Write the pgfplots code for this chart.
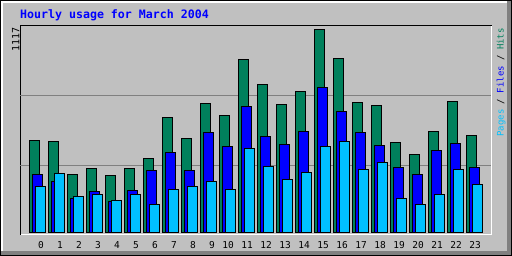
\documentclass[border=0pt]{standalone}
\usepackage{pgfplots}
\pgfplotsset{compat=1.18}
\usepackage{pgfplotstable}
\usepackage{fontspec}
\setmainfont{DejaVu Sans Mono}
\definecolor{bgc}{HTML}{C0C0C0}
\definecolor{hitc}{HTML}{00805C}
\definecolor{filec}{HTML}{0000FF}
\definecolor{pagec}{HTML}{00C0FF}
\definecolor{gridc}{HTML}{808080}
\pgfplotstableread{
h hits files pages
0 505 317 251
1 499 281 323
2 317 187 196
3 350 226 207
4 312 171 176
5 350 231 207
6 406 340 152
7 631 439 235
8 516 340 251
9 708 549 279
10 642 472 235
11 950 692 461
12 813 527 362
13 703 483 290
14 774 554 329
15 1117 796 472
16 956 664 499
17 714 549 345
18 697 477 384
19 494 356 185
20 428 317 152
21 554 450 207
22 719 488 345
23 532 356 262
}\datatable
\begin{document}
\begin{tikzpicture}[x=1pt,y=1pt]
\useasboundingbox (0,0) rectangle (512,256);
% outer frame
\fill[bgc] (0,0) rectangle (512,256);
\fill[white] (1,253) rectangle (511,255);
\fill[white] (1,1) rectangle (3,255);
\fill[gridc] (1,1) rectangle (511,5);
\fill[gridc] (507,1) rectangle (511,255);
\draw[black, line width=1pt] (0.5,0.5) rectangle (511.5,255.5);
% plot area frame
\draw[white, line width=1pt] (20,21.5) -- (491.5,21.5) -- (491.5,231);
\draw[black, line width=1pt] (20.5,21) -- (20.5,230.5) -- (492,230.5);
\begin{axis}[
  at={(20pt,22pt)}, anchor=south west,
  scale only axis, width=471pt, height=208pt,
  xmin=-0.76316, xmax=24.0263,
  ymin=-8.25, ymax=1136.3,
  axis line style={draw=none},
  major tick length=0pt,
  ytick={369,754}, yticklabels={},
  ymajorgrids, grid style={gridc, line width=1pt},
  xtick={0.347,1.347,2.347,3.347,4.347,5.347,6.347,7.347,8.347,9.347,10.195,11.195,12.195,13.195,14.195,15.195,16.195,17.195,18.195,19.195,20.195,21.195,22.195,23.195},
  xticklabels={0,1,2,3,4,5,6,7,8,9,10,11,12,13,14,15,16,17,18,19,20,21,22,23},
  xticklabel style={anchor=base, yshift=-14.3pt, font=\fontsize{9.5}{10}\selectfont, inner sep=0pt},
  clip=false,
]
\addplot[ybar, bar width=10pt, bar shift=0pt, fill=hitc, draw=black, line width=1pt] table[x=h, y=hits] {\datatable};
\addplot[ybar, bar width=10pt, bar shift=3pt, fill=filec, draw=black, line width=1pt] table[x=h, y=files] {\datatable};
\addplot[ybar, bar width=10pt, bar shift=6pt, fill=pagec, draw=black, line width=1pt] table[x=h, y=pages] {\datatable};
\end{axis}
% titles
\node[anchor=base west, inner sep=0pt, text=filec, font=\bfseries\fontsize{11.6}{12}\selectfont] at (20,237) {Hourly usage for March 2004};
\node[rotate=90, anchor=base east, inner sep=0pt, font=\fontsize{10}{11}\selectfont] at (19.3,229) {1117};
\node[rotate=90, anchor=base east, inner sep=0pt, font=\fontsize{9}{10}\selectfont] at (503.5,228) {\textcolor{pagec}{Pages} / \textcolor{filec}{Files} / \textcolor{hitc}{Hits}};
\end{tikzpicture}
\end{document}
